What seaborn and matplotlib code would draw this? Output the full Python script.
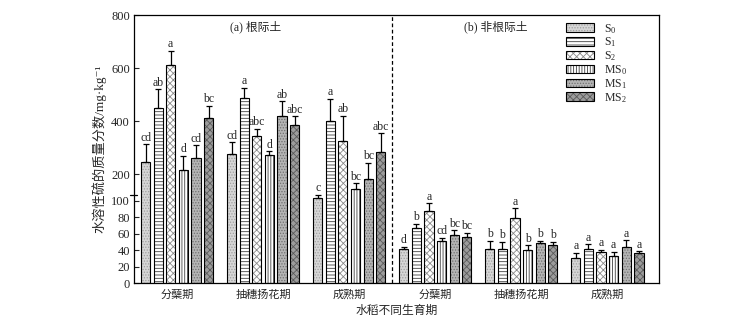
import numpy as np
import pandas as pd
import matplotlib
matplotlib.use("Agg")
import matplotlib.pyplot as plt
from matplotlib.patches import Rectangle
from matplotlib.legend_handler import HandlerTuple
from matplotlib.transforms import blended_transform_factory
import seaborn as sns

# ---- data -------------------------------------------------------------
stages = ["分蘖期", "抽穗扬花期", "成熟期"]
panel_titles = ["(a) 根际土", "(b) 非根际土"]
treatments = ["S0", "S1", "S2", "MS0", "MS1", "MS2"]
legend_labels = [r"S$_0$", r"S$_1$", r"S$_2$", r"MS$_0$", r"MS$_1$", r"MS$_2$"]

# six groups: rhizosphere (3 stages) then non-rhizosphere (3 stages)
s0_mean = [246, 277, 111, 41, 42, 31]
s1_mean = [448, 486, 399, 67, 41, 42]
s2_mean = [611, 346, 326, 88, 79, 38]
ms0_mean = [216, 271, 145, 51, 40, 33]
ms1_mean = [263, 418, 184, 59, 49, 44]
ms2_mean = [414, 386, 284, 56, 46, 37]

s0_sd = [67, 43, 12, 3, 9, 6]
s1_sd = [72, 40, 84, 5, 9, 5]
s2_sd = [53, 25, 94, 9, 12, 2.5]
ms0_sd = [53, 15, 21, 4, 6, 5]
ms1_sd = [46, 57, 60, 5, 2, 8]
ms2_sd = [43, 32, 70, 5, 4, 1.5]

s0_sig = ["cd", "cd", "c", "d", "b", "a"]
s1_sig = ["ab", "a", "a", "b", "b", "a"]
s2_sig = ["a", "abc", "ab", "a", "a", "a"]
ms0_sig = ["d", "d", "bc", "cd", "b", "a"]
ms1_sig = ["cd", "ab", "bc", "bc", "b", "a"]
ms2_sig = ["bc", "abc", "abc", "bc", "b", "a"]

y_ticks = [0, 20, 40, 60, 80, 100, 200, 400, 600, 800]

means = [s0_mean, s1_mean, s2_mean, ms0_mean, ms1_mean, ms2_mean]
sds = [s0_sd, s1_sd, s2_sd, ms0_sd, ms1_sd, ms2_sd]
sigs = [s0_sig, s1_sig, s2_sig, ms0_sig, ms1_sig, ms2_sig]

groups = [f"g{i}" for i in range(6)]
df = pd.DataFrame(
    [(g, t, means[j][i]) for j, t in enumerate(treatments) for i, g in enumerate(groups)],
    columns=["group", "treatment", "value"],
)

# fill colour, hatch pattern, hatch colour for each treatment
styles = [
    ("#d6d6d6", "......", "#a0a0a0"),
    ("#ffffff", "-----", "#404040"),
    ("#ffffff", "xxxxx", "#8a8a8a"),
    ("#ffffff", "||||||", "#404040"),
    ("#b4b4b4", "......", "#707070"),
    ("#9c9c9c", "xxxxx", "#5a5a5a"),
]

# ---- style ------------------------------------------------------------
sns.set_style("white")
plt.rcParams["font.family"] = ["Liberation Serif", "Noto Sans CJK SC", "DejaVu Sans"]
plt.rcParams["mathtext.fontset"] = "custom"
plt.rcParams["mathtext.rm"] = "Liberation Serif"
plt.rcParams["mathtext.it"] = "Liberation Serif:italic"
plt.rcParams["hatch.linewidth"] = 0.6
plt.rcParams["axes.edgecolor"] = "black"
plt.rcParams["axes.linewidth"] = 0.9

fig = plt.figure(figsize=(7.5, 3.26), dpi=100)
ax = fig.add_axes([0.1787, 0.1319, 0.700, 0.822])

sns.barplot(data=df, x="group", y="value", hue="treatment", order=groups,
            hue_order=treatments, width=0.88, gap=0.27, errorbar=None,
            legend=False, ax=ax)

# broken y axis: 0-100 stretched, 100-800 compressed
ratio = 0.3232


def fwd(y):
    y = np.asarray(y, dtype=float)
    return np.where(y <= 100, y, 100 + (y - 100) * ratio)


def inv(t):
    t = np.asarray(t, dtype=float)
    return np.where(t <= 100, t, 100 + (t - 100) / ratio)


ax.set_yscale("function", functions=(fwd, inv))

bar_containers = list(ax.containers)
for j, cont in enumerate(bar_containers):
    fc, hatch, hc = styles[j]
    xs, tops = [], []
    for bar in cont:
        bar.set_facecolor(fc)
        bar.set_edgecolor(hc)
        bar.set_hatch(hatch)
        bar.set_linewidth(0)
        ax.add_patch(Rectangle((bar.get_x(), bar.get_y()), bar.get_width(), bar.get_height(),
                               fill=False, edgecolor="black", lw=0.8, zorder=bar.get_zorder() + 0.1))
        xs.append(bar.get_x() + bar.get_width() / 2)
        tops.append(bar.get_height())
    err = sds[j]
    ax.errorbar(xs, tops, yerr=[np.zeros(len(err)), err], fmt="none", ecolor="black",
                elinewidth=0.9, capsize=2.2, capthick=0.9, zorder=3)
    for x, t, e, s in zip(xs, tops, err, sigs[j]):
        ax.annotate(s, (x, t + e), xytext=(0, 0.5), textcoords="offset points",
                    ha="center", va="bottom", fontsize=8.5)

ax.set_ylim(0, 800)
ax.set_xlim(-0.5, 5.6)
ax.set_yticks(y_ticks)
ax.set_yticklabels([str(v) for v in y_ticks], fontsize=9)
ax.minorticks_off()
ax.tick_params(axis="y", direction="in", length=3.5, width=0.8, left=True, pad=3)
ax.tick_params(axis="x", length=0, pad=5)
ax.set_xticks(range(6))
ax.set_xticklabels(stages * 2, fontsize=8)
for s in ax.spines.values():
    s.set_visible(True)
    s.set_color("black")

# axis break mark
trans = blended_transform_factory(ax.transAxes, ax.transData)
ax.plot([-0.008, 0.006], [121, 121], transform=trans, color="black", lw=0.9, clip_on=False)

# separator between soil types
ax.axvline(2.5, color="black", lw=0.9, ls=(0, (3, 2)))

ax.text(0.91, 0.955, panel_titles[0], transform=blended_transform_factory(ax.transData, ax.transAxes),
        ha="center", va="center", fontsize=8.5)
ax.text(3.70, 0.955, panel_titles[1], transform=blended_transform_factory(ax.transData, ax.transAxes),
        ha="center", va="center", fontsize=8.5)

ax.set_xlabel("水稻不同生育期", fontsize=8.5, labelpad=3)
ax.set_ylabel("水溶性硫的质量分数/mg·kg⁻¹", fontsize=9.5, labelpad=3)

handles = []
for fc, hatch, hc in styles:
    h1 = Rectangle((0, 0), 1, 1, facecolor=fc, edgecolor=hc, hatch=hatch, lw=0)
    h2 = Rectangle((0, 0), 1, 1, fill=False, edgecolor="black", lw=0.8)
    handles.append((h1, h2))
ax.legend(handles, legend_labels, handler_map={tuple: HandlerTuple(ndivide=1, pad=0)},
          loc="upper left", bbox_to_anchor=(0.822, 0.975), frameon=False, fontsize=8.5,
          handlelength=2.45, handleheight=0.7, labelspacing=0.0, handletextpad=0.8,
          borderpad=0, borderaxespad=0)

fig.savefig("out.png", dpi=100)
